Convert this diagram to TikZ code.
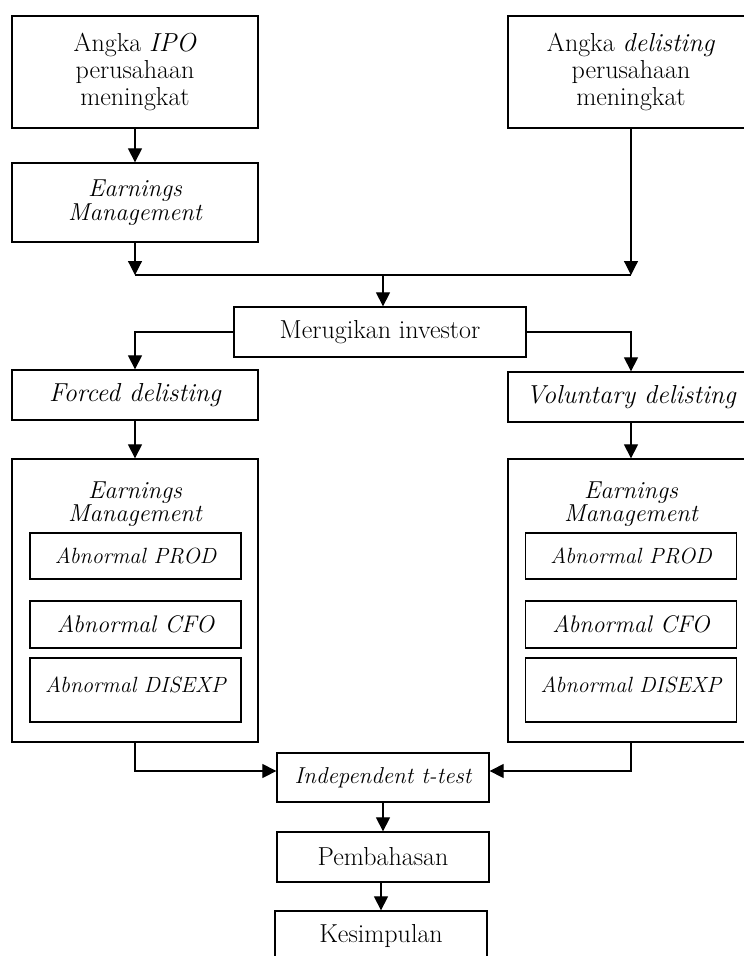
\documentclass[tikz,border=0pt]{standalone}
\usepackage{fontspec}
\usetikzlibrary{arrows.meta,calc}

\begin{document}
\begin{tikzpicture}[x=1pt,y=-1pt,
    box/.style={draw,line width=1.3pt,align=center,inner sep=0pt,font=\fontsize{26}{27}\selectfont},
    inbox/.style={box,minimum width=211pt,font=\fontsize{22}{23}\selectfont\itshape},
    conn/.style={line width=1.2pt},
    arr/.style={conn,-{Triangle[width=14pt,length=14pt]}}]
  \useasboundingbox (0,0) rectangle (744,956);
  % top row
  \node[box,minimum width=246pt,minimum height=112pt] (ipo) at (135,72) {Angka \textit{IPO}\\perusahaan\\meningkat};
  \node[box,minimum width=246pt,minimum height=79pt,font=\fontsize{24.5}{24}\selectfont\itshape] (emtop) at (135,202.5) {Earnings\\Management};
  \node[box,minimum width=246pt,minimum height=112pt] (dlist) at (631,72) {Angka \textit{delisting}\\perusahaan\\meningkat};
  \node[box,minimum width=292pt,minimum height=50pt] (rugi) at (380,332) {Merugikan investor};
  % two branches
  \node[box,minimum width=246pt,minimum height=50pt,font=\fontsize{26}{27}\selectfont\itshape] (forced) at (135,395) {Forced delisting};
  \node[box,minimum width=246pt,minimum height=50pt,font=\fontsize{26}{27}\selectfont\itshape] (volun) at (631,397) {Voluntary delisting};
  \node[box,minimum width=246pt,minimum height=283pt] (emL) at (135,600.5) {};
  \node[box,minimum width=246pt,minimum height=283pt] (emR) at (631,600.5) {};
  \node[align=center,font=\fontsize{24.5}{23}\selectfont\itshape] (emLtitle) at (135,504) {Earnings\\Management};
  \node[align=center,font=\fontsize{24.5}{23}\selectfont\itshape] (emRtitle) at (631,504) {Earnings\\Management};
  \node[inbox,minimum height=46pt] (prodL) at (135.5,556) {Abnormal PROD};
  \node[inbox,minimum height=47pt,font=\fontsize{24}{25}\selectfont\itshape] (cfoL) at (135.5,624.5) {Abnormal CFO};
  \node[inbox,minimum height=64pt] (disL) at (135.5,690) {Abnormal DISEXP\\[-12pt]~};
  \node[inbox,minimum height=46pt] (prodR) at (631,556) {Abnormal PROD};
  \node[inbox,minimum height=47pt,font=\fontsize{24}{25}\selectfont\itshape] (cfoR) at (631,624.5) {Abnormal CFO};
  \node[inbox,minimum height=64pt] (disR) at (631,690) {Abnormal DISEXP\\[-12pt]~};
  % bottom
  \node[box,minimum width=212pt,minimum height=49pt,font=\fontsize{23}{24}\selectfont\itshape] (ttest) at (383,777.5) {Independent t-test};
  \node[box,minimum width=212pt,minimum height=50pt] (bahas) at (383,857) {Pembahasan};
  \node[box,minimum width=212pt,minimum height=50pt] (simpul) at (381,936) {Kesimpulan};

  \coordinate (jl) at (135,275);
  \coordinate (jr) at (dlist.south |- jl);
  \coordinate (jm) at (383,275);

  \draw[arr] (ipo.south) -- (emtop.north);
  \draw[arr] (emtop.south) -- (jl);
  \draw[arr] (dlist.south) -- (jr);
  \draw[conn] (jl) -- (jr);
  \draw[arr] (jm) -- (jm |- rugi.north);
  \draw[arr] (rugi.west) -| (forced.north);
  \draw[arr] (rugi.east) -| (volun.north);
  \draw[arr] (forced.south) -- (emL.north);
  \draw[arr] (volun.south) -- (emR.north);
  \draw[arr] (emL.south) |- ([yshift=6.5pt]ttest.west);
  \draw[arr] (emR.south) |- ([yshift=6.5pt]ttest.east);
  \draw[arr] (ttest.south) -- (bahas.north);
  \draw[arr] (bahas.south -| simpul.north) -- (simpul.north);
\end{tikzpicture}
\end{document}
